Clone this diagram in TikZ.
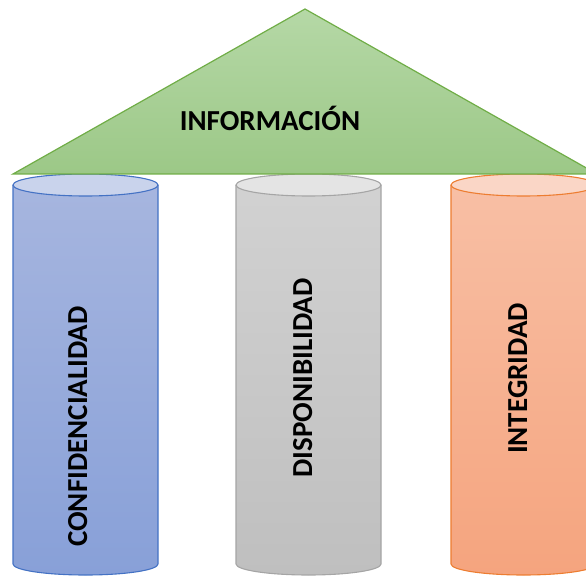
\documentclass[tikz,border=0pt]{standalone}
\usepackage{fontspec}
\setmainfont{Carlito}
\definecolor{bluetop}{HTML}{A7B6DF}
\definecolor{bluebot}{HTML}{88A0D8}
\definecolor{bluecap}{HTML}{C9D3EC}
\definecolor{blueline}{HTML}{4472C4}
\definecolor{graytop}{HTML}{D2D2D2}
\definecolor{graybot}{HTML}{BFBFBF}
\definecolor{graycap}{HTML}{E4E4E4}
\definecolor{grayline}{HTML}{A5A5A5}
\definecolor{orgtop}{HTML}{F8C0A6}
\definecolor{orgbot}{HTML}{F5A47E}
\definecolor{orgcap}{HTML}{FAD6C6}
\definecolor{orgline}{HTML}{ED7D31}
\definecolor{grtop}{HTML}{B5D8A6}
\definecolor{grbot}{HTML}{9CC887}
\definecolor{grline}{HTML}{70AD47}
\newcommand\mypillar[5]{%
  \shade[top color=#2, bottom color=#3]
    (#1-72.5,185) -- (#1-72.5,564) arc[start angle=180, end angle=360, x radius=72.5pt, y radius=11pt]
    -- (#1+72.5,185) arc[start angle=0, end angle=180, x radius=72.5pt, y radius=11pt] -- cycle;
  \draw[color=#5, line width=1.1pt]
    (#1-72.5,185) -- (#1-72.5,564) arc[start angle=180, end angle=360, x radius=72.5pt, y radius=11pt]
    -- (#1+72.5,185);
  \draw[color=#5, line width=1.1pt, fill=#4] (#1,185) ellipse [x radius=72.5pt, y radius=11pt];
}
\tikzset{
  label/.style={font=\bfseries\fontsize{29}{29}\selectfont, text=black, inner sep=0pt},
}
\begin{document}
\begin{tikzpicture}[x=1pt,y=-1pt]
\useasboundingbox (0,0) rectangle (586,577);
\clip (0,0) rectangle (586,577);
\mypillar{85.5}{bluetop}{bluebot}{bluecap}{blueline}
\mypillar{308.5}{graytop}{graybot}{graycap}{grayline}
\mypillar{523.5}{orgtop}{orgbot}{orgcap}{orgline}
\shade[top color=grtop, bottom color=grbot] (305,9) -- (13,174) -- (597,174) -- cycle;
\draw[grline, line width=1.2pt, line join=miter] (305,9) -- (13,174) -- (597,174) -- cycle;
\node[label, anchor=base] (info) at (270,130.5) {INFORMACIÓN};
\node[label, anchor=base, rotate=90] (conf) at (87,426.5) {CONFIDENCIALIDAD};
\node[label, anchor=base, rotate=90] (disp) at (312,378) {DISPONIBILIDAD};
\node[label, anchor=base, rotate=90] (integ) at (527,378.5) {INTEGRIDAD};
\end{tikzpicture}
\end{document}
